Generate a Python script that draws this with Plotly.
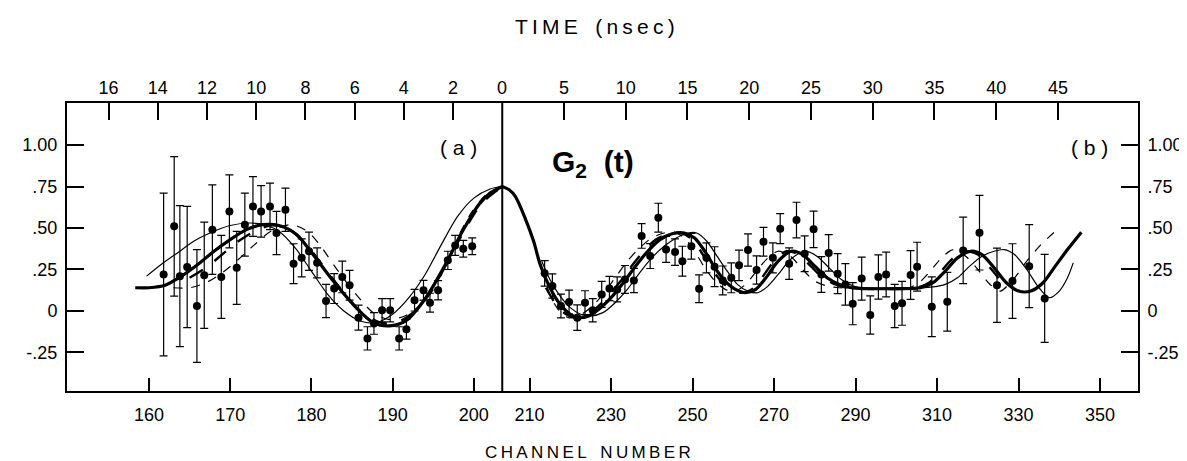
import plotly.graph_objects as go

# ---------------- data ----------------
# Panel (a): channel number, G2 value, error
chan_a = [161.8, 163.1, 163.8, 164.7, 165.9, 166.8, 167.8, 168.9, 169.9, 170.8,
          171.8, 172.8, 173.8, 174.9, 175.7, 176.8, 177.8, 178.8, 179.7, 180.7,
          181.8, 182.8, 183.8, 184.7, 185.8, 186.9, 187.7, 188.7, 189.7, 190.8,
          191.7, 192.7, 193.8, 194.6, 195.6, 196.8, 197.7, 198.7, 199.8]
g2_a = [0.22, 0.51, 0.21, 0.265, 0.03, 0.215, 0.49, 0.205, 0.60, 0.26,
        0.52, 0.63, 0.60, 0.63, 0.47, 0.61, 0.285, 0.32, 0.36, 0.29,
        0.06, 0.135, 0.205, 0.155, -0.04, -0.165, -0.075, 0.005, 0.005, -0.165,
        -0.11, 0.065, 0.125, 0.05, 0.125, 0.305, 0.395, 0.375, 0.39]
err_a = [0.49, 0.42, 0.425, 0.365, 0.34, 0.32, 0.27, 0.25, 0.22, 0.22,
         0.19, 0.18, 0.155, 0.14, 0.13, 0.13, 0.12, 0.115, 0.115, 0.09,
         0.10, 0.09, 0.095, 0.09, 0.075, 0.07, 0.065, 0.07, 0.07, 0.07,
         0.06, 0.065, 0.06, 0.057, 0.058, 0.055, 0.06, 0.05, 0.05]

# Panel (b)
chan_b = [213.7, 215.6, 217.7, 219.7, 221.7, 223.6, 225.5, 227.7, 229.6, 231.5,
          233.4, 235.6, 237.5, 239.6, 241.6, 243.5, 245.7, 247.5, 249.7, 251.6,
          253.4, 255.4, 257.4, 259.5, 261.4, 263.6, 265.7, 267.4, 269.7, 271.5,
          273.7, 275.5, 277.5, 279.7, 281.6, 283.4, 285.6, 287.5, 289.3, 291.5,
          293.6, 295.6, 297.5, 299.6, 301.4, 303.5, 305.1, 308.7, 312.5, 316.4,
          320.4, 324.7, 328.5, 332.6, 336.4]
g2_b = [0.227, 0.15, 0.03, 0.054, -0.04, 0.05, 0.004, 0.10, 0.136, 0.13,
        0.19, 0.184, 0.452, 0.331, 0.562, 0.371, 0.355, 0.30, 0.39, 0.134,
        0.32, 0.267, 0.184, 0.20, 0.275, 0.367, 0.247, 0.417, 0.32, 0.496,
        0.285, 0.548, 0.345, 0.492, 0.22, 0.35, 0.225, 0.16, 0.044, 0.195,
        -0.024, 0.205, 0.22, 0.03, 0.046, 0.217, 0.267, 0.026, 0.056, 0.365,
        0.472, 0.155, 0.18, 0.27, 0.076]
err_b = [0.077, 0.073, 0.072, 0.072, 0.077, 0.072, 0.07, 0.078, 0.073, 0.075,
         0.084, 0.073, 0.074, 0.075, 0.087, 0.078, 0.08, 0.09, 0.078, 0.083,
         0.09, 0.12, 0.087, 0.09, 0.092, 0.097, 0.085, 0.087, 0.09, 0.09,
         0.095, 0.107, 0.108, 0.11, 0.108, 0.11, 0.12, 0.125, 0.127, 0.13,
         0.115, 0.133, 0.135, 0.13, 0.132, 0.147, 0.147, 0.18, 0.177, 0.2,
         0.225, 0.224, 0.225, 0.25, 0.265]

# Fitted curves, panel (a)
thick_a_x = [158.3, 160, 162, 164, 166, 168, 170, 172, 174, 176, 178.2, 180.2,
             182.7, 185.5, 187.6, 189.6, 191.6, 194.1, 196.5, 198.6, 200.6, 202, 203.5]
thick_a_y = [0.14, 0.14, 0.155, 0.21, 0.28, 0.36, 0.43, 0.49, 0.52, 0.515, 0.46, 0.34,
             0.18, 0.02, -0.07, -0.09, -0.06, 0.08, 0.28, 0.48, 0.64, 0.71, 0.75]
thin_a_x = [159.7, 161.5, 163.5, 165.5, 167.5, 170, 172.5, 174.5, 176, 178, 180, 182,
            184, 186, 188, 190, 192, 194, 196, 198, 200, 202, 203.5]
thin_a_y = [0.21, 0.28, 0.35, 0.42, 0.47, 0.515, 0.53, 0.515, 0.48, 0.38, 0.24, 0.10,
            0.0, -0.06, -0.07, -0.02, 0.08, 0.22, 0.40, 0.57, 0.68, 0.735, 0.75]
dash_a_x = [163, 165, 167, 169, 171, 173, 175, 177.5, 179.5, 181, 183, 185.5, 187.6,
            189.5, 191.5, 193.5, 195, 196.7, 198.2, 199.8, 201.5, 203.5]
dash_a_y = [0.14, 0.14, 0.17, 0.23, 0.31, 0.40, 0.48, 0.52, 0.48, 0.40, 0.26, 0.10,
            -0.01, -0.05, -0.03, 0.04, 0.14, 0.28, 0.46, 0.60, 0.70, 0.75]
heavy_a_x = [165, 167, 169, 171, 173, 175, 177, 179, 181, 183.5, 186, 188.5, 190.5,
             192.5, 194.8, 197, 199, 201, 203.5]
heavy_a_y = [0.20, 0.26, 0.34, 0.42, 0.48, 0.515, 0.50, 0.42, 0.30, 0.14, 0.0, -0.07,
             -0.07, -0.01, 0.12, 0.32, 0.50, 0.65, 0.75]

# Fitted curves, panel (b)
thick_b_x = [203.3, 205, 206.5, 208.9, 211, 212.6, 215, 217.5, 220, 222, 224.5, 227,
             230, 233, 236, 239, 242, 245, 248, 250.5, 253, 255.5, 258, 260.5, 263,
             265.5, 268, 271, 274.2, 277, 280, 283, 286, 289, 292, 300, 306, 309, 312,
             315, 318.3, 321, 324, 327, 330, 333, 336, 339, 342, 345.4]
thick_b_y = [0.75, 0.73, 0.69, 0.56, 0.42, 0.28, 0.14, 0.04, -0.02, -0.04, -0.03, 0.01,
             0.08, 0.17, 0.27, 0.36, 0.43, 0.465, 0.47, 0.44, 0.36, 0.26, 0.18, 0.13, 0.11,
             0.13, 0.20, 0.30, 0.36, 0.34, 0.27, 0.20, 0.16, 0.14, 0.135, 0.135, 0.14, 0.17, 0.24,
             0.32, 0.36, 0.34, 0.26, 0.17, 0.12, 0.12, 0.17, 0.27, 0.37, 0.475]
thin_b_x = [213, 215, 217.5, 220, 222.5, 225, 228, 231, 234, 237, 240, 243, 246, 249,
            251, 253.5, 256, 258.5, 261, 263.5, 266, 268.5, 271, 274, 277.5, 280.5,
            283.5, 286.5, 289.5, 292, 306, 309, 312, 315, 318, 321, 324, 326.5, 329,
            332, 335, 337.5, 340, 342, 343.4]
thin_b_y = [0.30, 0.19, 0.09, 0.02, -0.02, -0.03, -0.01, 0.05, 0.13, 0.23, 0.32, 0.39,
            0.44, 0.47, 0.47, 0.42, 0.33, 0.24, 0.16, 0.12, 0.11, 0.15, 0.22, 0.31, 0.36,
            0.33, 0.26, 0.19, 0.15, 0.14, 0.14, 0.145, 0.16, 0.20, 0.27, 0.33, 0.36, 0.37,
            0.34, 0.25, 0.14, 0.08, 0.12, 0.20, 0.29]
dash_b_x = [213, 215, 217, 219.5, 222, 225, 228, 231, 234, 237, 240, 243, 245.5, 248,
            250.5, 253, 255.5, 258, 260.5, 263, 266, 268.5, 271, 274, 277, 280, 283,
            286, 303, 306, 309, 311.5, 314, 317, 320, 323, 325.5, 329, 332, 335.5, 338.9]
dash_b_y = [0.25, 0.10, 0.01, -0.04, -0.03, 0.02, 0.10, 0.20, 0.30, 0.38, 0.44, 0.47,
            0.475, 0.44, 0.36, 0.26, 0.18, 0.13, 0.12, 0.16, 0.25, 0.32, 0.36, 0.33,
            0.25, 0.18, 0.15, 0.14, 0.14, 0.18, 0.26, 0.33, 0.37, 0.33, 0.25, 0.16, 0.12,
            0.20, 0.30, 0.40, 0.478]
heavy_b_x = [214, 216.5, 219, 221, 223.5, 226, 229, 232, 235, 238, 241, 244, 247,
             249.5, 252, 254.5, 257, 259.5, 262, 264.5, 267, 270, 273, 276, 279, 282,
             285, 288, 305, 308, 311, 314, 317, 320, 323, 326]
heavy_b_y = [0.14, 0.04, -0.02, -0.04, -0.03, 0.01, 0.08, 0.17, 0.27, 0.36, 0.43,
             0.465, 0.47, 0.44, 0.36, 0.26, 0.18, 0.13, 0.11, 0.13, 0.20, 0.30, 0.36,
             0.34, 0.27, 0.20, 0.16, 0.14, 0.14, 0.17, 0.24, 0.32, 0.36, 0.34, 0.26, 0.17]

# Axis tick labels
chan_ticks_a = [160, 170, 180, 190, 200]
chan_ticks_b = [210, 230, 250, 270, 290, 310, 330, 350]
time_ticks_a = [16, 14, 12, 10, 8, 6, 4, 2]
time_ticks_b = [5, 10, 15, 20, 25, 30, 35, 40, 45]
y_ticks = [1.0, 0.75, 0.5, 0.25, 0.0, -0.25]
y_ticklabels = ["1.00", ".75", ".50", ".25", "0", "-.25"]

# time <-> channel scale (t = 0 at the dividing line)
T0_A, T0_B = 203.5, 203.3
CH_PER_NS = 3.03
XR_A = [149.9, 203.5]
XR_B = [203.3, 359.3]
YR = [-0.482, 1.253]
SPLIT = 0.4064

FONT = "Liberation Sans"
BLACK = "black"
TS = "\u2009"  # thin space for the widely lettered titles


def spaced(word):
    return TS.join(word)


fig = go.Figure()


def curve(x, y, ax, ay, width, dash="solid"):
    fig.add_trace(go.Scatter(x=x, y=y, xaxis=ax, yaxis=ay, mode="lines",
                             line=dict(color=BLACK, width=width, dash=dash, shape="spline", smoothing=0.8),
                             hoverinfo="skip", showlegend=False))


# panel (a) curves
curve(thin_a_x, thin_a_y, "x", "y", 1.2)
curve(dash_a_x, dash_a_y, "x", "y", 1.2, "dash")
curve(heavy_a_x, heavy_a_y, "x", "y", 2.4, "longdash")
curve(thick_a_x, thick_a_y, "x", "y", 3.2)
# panel (b) curves
curve(thin_b_x, thin_b_y, "x2", "y2", 1.2)
curve(dash_b_x, dash_b_y, "x2", "y2", 1.2, "dash")
curve(heavy_b_x, heavy_b_y, "x2", "y2", 2.4, "longdash")
curve(thick_b_x, thick_b_y, "x2", "y2", 3.2)


def points(x, y, e, ax, ay):
    fig.add_trace(go.Scatter(x=x, y=y, xaxis=ax, yaxis=ay, mode="markers",
                             marker=dict(color=BLACK, size=8, symbol="circle"),
                             error_y=dict(type="data", array=e, visible=True,
                                          color=BLACK, thickness=1.2, width=4),
                             hoverinfo="skip", showlegend=False))


points(chan_a, g2_a, err_a, "x", "y")
points(chan_b, g2_b, err_b, "x2", "y2")

# invisible anchors for the top (time) axes
fig.add_trace(go.Scatter(x=XR_A, y=[0, 0], xaxis="x3", yaxis="y", mode="markers",
                         marker=dict(opacity=0), hoverinfo="skip", showlegend=False))
fig.add_trace(go.Scatter(x=XR_B, y=[0, 0], xaxis="x4", yaxis="y2", mode="markers",
                         marker=dict(opacity=0), hoverinfo="skip", showlegend=False))

tickfont = dict(family=FONT, size=18, color=BLACK)
common_x = dict(showgrid=False, zeroline=False, showline=True, linecolor=BLACK, linewidth=2,
                ticks="inside", tickcolor=BLACK, tickwidth=1.5, tickfont=tickfont)
common_y = dict(showgrid=False, zeroline=False, showline=True, linecolor=BLACK, linewidth=2,
                ticks="inside", tickcolor=BLACK, tickwidth=1.5, ticklen=17, tickfont=tickfont,
                range=YR, tickmode="array", tickvals=y_ticks, ticktext=y_ticklabels,
                domain=[0, 1])

fig.update_layout(
    width=1187, height=461,
    margin=dict(l=59, r=51, t=95, b=78),
    paper_bgcolor="white", plot_bgcolor="white",
    font=dict(family=FONT, color=BLACK),
    xaxis=dict(common_x, domain=[0, SPLIT], range=XR_A, anchor="y", tickmode="array",
               tickvals=chan_ticks_a, ticklen=13, ticklabelstandoff=6),
    xaxis2=dict(common_x, domain=[SPLIT, 1], range=XR_B, anchor="y2", tickmode="array",
                tickvals=chan_ticks_b, ticklen=13, ticklabelstandoff=6),
    xaxis3=dict(common_x, overlaying="x", side="top", anchor="y", range=XR_A, tickmode="array",
                tickvals=[T0_A - CH_PER_NS * t for t in time_ticks_a],
                ticktext=[str(t) for t in time_ticks_a], ticklen=17),
    xaxis4=dict(common_x, overlaying="x2", side="top", anchor="y2", range=XR_B, tickmode="array",
                tickvals=[T0_B + CH_PER_NS * t for t in time_ticks_b],
                ticktext=[str(t) for t in time_ticks_b], ticklen=17),
    yaxis=dict(common_y, anchor="x", side="left", ticklabelstandoff=4),
    yaxis2=dict(common_y, anchor="x2", side="right", ticklabelstandoff=4),
    shapes=[dict(type="line", xref="paper", yref="paper", x0=SPLIT, x1=SPLIT, y0=0, y1=1,
                 line=dict(color=BLACK, width=2))],
    annotations=[
        dict(text=spaced("TIME") + "   " + spaced("(nsec)"), xref="paper", yref="paper",
             x=0.493, y=1.267, showarrow=False, font=dict(family=FONT, size=21, color=BLACK),
             xanchor="center", yanchor="middle"),
        dict(text=spaced("CHANNEL") + "   " + spaced("NUMBER"), xref="paper", yref="paper",
             x=0.4865, y=-0.212, showarrow=False, font=dict(family=FONT, size=17, color=BLACK),
             xanchor="center", yanchor="middle"),
        dict(text="0", xref="paper", yref="paper", x=SPLIT, y=1, yanchor="bottom", yshift=3,
             showarrow=False, font=tickfont),
        dict(text="( a )", xref="paper", yref="paper", x=0.366, y=0.844, showarrow=False,
             font=dict(family=FONT, size=21, color=BLACK), xanchor="center", yanchor="middle"),
        dict(text="( b )", xref="paper", yref="paper", x=0.9545, y=0.844, showarrow=False,
             font=dict(family=FONT, size=21, color=BLACK), xanchor="center", yanchor="middle"),
        dict(text="<b>G<sub>2</sub>  (t)</b>", xref="paper", yref="paper", x=0.4513, y=0.79,
             showarrow=False, font=dict(family=FONT, size=30, color=BLACK),
             xanchor="left", yanchor="middle"),
    ],
)

fig.write_html("out.html")
